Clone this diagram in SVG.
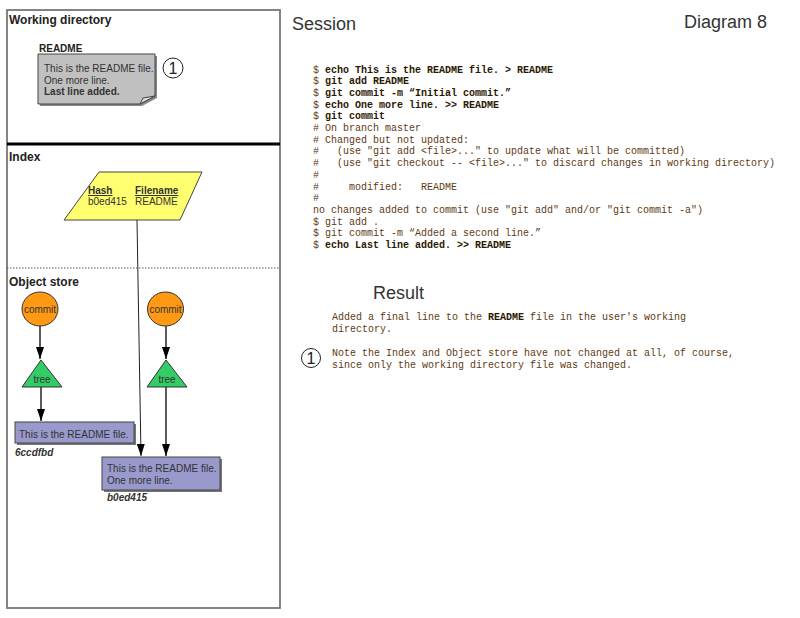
<svg xmlns="http://www.w3.org/2000/svg" width="800" height="618" viewBox="0 0 800 618">
<style>
.lbl{font-family:"Liberation Sans",Arial,sans-serif;font-weight:bold;font-size:12px;fill:#222}
.sf{font-family:"Liberation Sans",Arial,sans-serif;font-size:10px;fill:#333}
.big{font-family:"Liberation Sans",Arial,sans-serif;font-size:18px;fill:#333}
.code{font-family:"Liberation Mono","Courier New",monospace;font-size:10px;fill:#5e3a12;white-space:pre}
.code .b{font-weight:bold;fill:#2a1800}
.num{font-family:"Liberation Sans",Arial,sans-serif;font-size:16px;fill:#222;text-anchor:middle}
.ncirc{fill:#fff;stroke:#222;stroke-width:1}
.arr{stroke:#333;stroke-width:1.6;fill:none}
.blob{fill:#9999cc;stroke:#444;stroke-width:1}
.shadow{fill:#777}
</style>
<defs>
<marker id="ah2" markerUnits="userSpaceOnUse" markerWidth="14" markerHeight="10" refX="12" refY="4" orient="auto">
<path d="M0,0 L12,4 L0,8 z" fill="#000"/>
</marker>
</defs>
<rect width="800" height="618" fill="#fff"/>

<g id="frame">
<rect x="7" y="10" width="273" height="598" fill="#fff" stroke="#777" stroke-width="1.8"/>
<line x1="7" y1="144" x2="280" y2="144" stroke="#000" stroke-width="3"/>
<line x1="7" y1="268" x2="280" y2="268" stroke="#555" stroke-width="1" stroke-dasharray="1.5,1.5"/>
<text class="lbl" x="9" y="24">Working directory</text>
<text class="lbl" x="9" y="161">Index</text>
<text class="lbl" x="9" y="286">Object store</text>
</g>

<g id="readme-file">
<text class="sf" x="39" y="52" style="font-weight:bold;fill:#222">README</text>
<path d="M40,56 H157 V98 L142,106 H40 Z" fill="#888"/>
<path d="M38,54 H155 V96 L140,104 H38 Z" fill="#c0c0c0" stroke="#444" stroke-width="1"/>
<path d="M155,96 L143,98 L140,104 Z" fill="#e0e0e0" stroke="#444" stroke-width="1"/>
<text class="sf" x="44" y="72">This is the README file.</text>
<text class="sf" x="44" y="83.5">One more line.</text>
<text class="sf" x="44" y="95" style="font-weight:bold">Last line added.</text>
</g>

<g id="callout-1">
<circle class="ncirc" cx="173" cy="68" r="10"/>
<text class="num" x="173" y="74">1</text>
</g>

<g id="index">
<polygon points="99,172 202,172 180,220 64,220" fill="#ffff70" stroke="#444" stroke-width="1"/>
<text class="sf" x="88" y="194" style="font-weight:bold;text-decoration:underline">Hash</text>
<text class="sf" x="135" y="194" style="font-weight:bold;text-decoration:underline">Filename</text>
<text class="sf" x="88" y="205">b0ed415</text>
<text class="sf" x="135" y="205">README</text>
</g>

<g id="commit1">
<ellipse cx="40" cy="309" rx="18" ry="17" fill="#ff9914" stroke="#333" stroke-width="1"/>
<text class="sf" x="40" y="312.5" text-anchor="middle">commit</text>
</g>
<g id="commit2">
<ellipse cx="165.5" cy="309" rx="18" ry="17" fill="#ff9914" stroke="#333" stroke-width="1"/>
<text class="sf" x="165.5" y="312.5" text-anchor="middle">commit</text>
</g>
<g id="tree1">
<polygon points="41,360 22,387 62,387" fill="#33cc66" stroke="#333" stroke-width="1"/>
<text class="sf" x="42" y="383" text-anchor="middle">tree</text>
</g>
<g id="tree2">
<polygon points="166,360 147,387 187,387" fill="#33cc66" stroke="#333" stroke-width="1"/>
<text class="sf" x="167" y="383" text-anchor="middle">tree</text>
</g>
<g id="blob1">
<rect class="shadow" x="17" y="424" width="119" height="21"/>
<rect class="blob" x="15" y="422" width="119" height="21"/>
<text class="sf" x="19" y="438">This is the README file.</text>
<text class="sf" x="15" y="456" style="font-weight:bold;font-style:italic">6ccdfbd</text>
</g>
<g id="blob2">
<rect class="shadow" x="104" y="459" width="118" height="33"/>
<rect class="blob" x="102" y="457" width="118" height="33"/>
<text class="sf" x="107" y="472">This is the README file.</text>
<text class="sf" x="107" y="483.5">One more line.</text>
<text class="sf" x="107" y="501" style="font-weight:bold;font-style:italic">b0ed415</text>
</g>

<g id="connectors">
<line x1="137" y1="220" x2="141" y2="456" stroke="#222" stroke-width="1" marker-end="url(#ah2)"/>
<line class="arr" x1="40" y1="326" x2="40" y2="359" marker-end="url(#ah2)"/>
<line class="arr" x1="166" y1="326" x2="166" y2="359" marker-end="url(#ah2)"/>
<line class="arr" x1="41" y1="387" x2="41" y2="421" marker-end="url(#ah2)"/>
<line class="arr" x1="166" y1="387" x2="166" y2="456" marker-end="url(#ah2)"/>
</g>

<g id="session">
<text class="big" x="292" y="30">Session</text>
<text class="big" x="684" y="28">Diagram 8</text>
<text class="code" xml:space="preserve">
<tspan x="313" y="72.5">$ <tspan class="b">echo This is the README file. &gt; README</tspan></tspan>
<tspan x="313" y="84.2">$ <tspan class="b">git add README</tspan></tspan>
<tspan x="313" y="95.9">$ <tspan class="b">git commit -m “Initial commit.”</tspan></tspan>
<tspan x="313" y="107.6">$ <tspan class="b">echo One more line. &gt;&gt; README</tspan></tspan>
<tspan x="313" y="119.3">$ <tspan class="b">git commit</tspan></tspan>
<tspan x="313" y="131"># On branch master</tspan>
<tspan x="313" y="142.7"># Changed but not updated:</tspan>
<tspan x="313" y="154.4">#   (use "git add &lt;file&gt;..." to update what will be committed)</tspan>
<tspan x="313" y="166.1">#   (use "git checkout -- &lt;file&gt;..." to discard changes in working directory)</tspan>
<tspan x="313" y="177.8">#</tspan>
<tspan x="313" y="189.5">#     modified:   README</tspan>
<tspan x="313" y="201.2">#</tspan>
<tspan x="313" y="212.9">no changes added to commit (use "git add" and/or "git commit -a")</tspan>
<tspan x="313" y="224.6">$ git add .</tspan>
<tspan x="313" y="236.3">$ git commit -m “Added a second line.”</tspan>
<tspan x="313" y="248">$ <tspan class="b">echo Last line added. &gt;&gt; README</tspan></tspan>
</text>
</g>

<g id="result">
<text class="big" x="373" y="299">Result</text>
<text class="code" xml:space="preserve"><tspan x="332" y="320">Added a final line to the <tspan class="b">README</tspan> file in the user's working</tspan><tspan x="332" y="331.5">directory.</tspan></text>
<circle class="ncirc" cx="311" cy="358" r="9.5"/>
<text class="num" x="311" y="364">1</text>
<text class="code" xml:space="preserve"><tspan x="332" y="356">Note the Index and Object store have not changed at all, of course,</tspan><tspan x="332" y="367.5">since only the working directory file was changed.</tspan></text>
</g>
</svg>
